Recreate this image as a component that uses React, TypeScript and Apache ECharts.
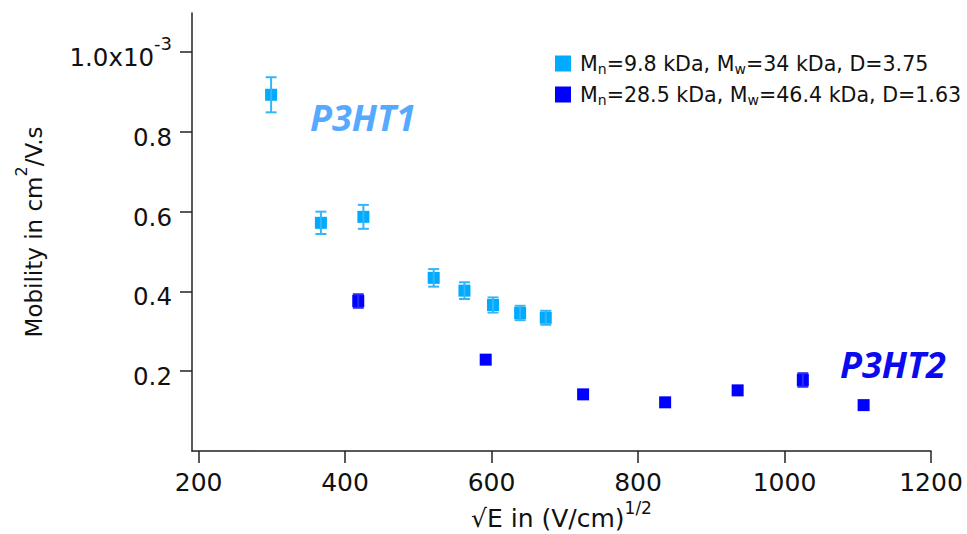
import React, { useEffect, useRef } from "react";
import * as echarts from "echarts";

// P3HT1: Mn=9.8 kDa, Mw=34 kDa, D=3.75
const x1 = [299, 367, 425, 521, 563, 602, 639, 674];
const y1 = [0.893, 0.572, 0.587, 0.434, 0.402, 0.366, 0.346, 0.334];
const e1 = [0.044, 0.028, 0.03, 0.022, 0.021, 0.019, 0.018, 0.0175];
// P3HT2: Mn=28.5 kDa, Mw=46.4 kDa, D=1.63
const x2 = [418, 592, 725, 837, 936, 1025, 1108];
const y2 = [0.376, 0.229, 0.142, 0.122, 0.152, 0.178, 0.115];
const e2 = [0.017, 0, 0, 0, 0, 0.017, 0];

const xTicks = [200, 400, 600, 800, 1000, 1200];
const yTicks = [0.2, 0.4, 0.6, 0.8, 1.0];

const name1 = "P3HT1";
const name2 = "P3HT2";

const FONT = "DejaVu Sans";

function errorSeries(xs: number[], ys: number[], es: number[], color: string) {
  return {
    type: "custom",
    silent: true,
    z: 5,
    data: xs.map((x, i) => [x, ys[i], es[i]]),
    encode: { x: 0, y: 1 },
    renderItem: (params: any, api: any) => {
      const x = api.value(0);
      const y = api.value(1);
      const e = api.value(2);
      if (!(e > 0)) return null;
      const top = api.coord([x, y + e]);
      const bot = api.coord([x, y - e]);
      const hw = 5.5;
      const style = { stroke: color, lineWidth: 2 };
      return {
        type: "group",
        children: [
          { type: "line", shape: { x1: top[0], y1: top[1], x2: bot[0], y2: bot[1] }, style },
          { type: "line", shape: { x1: top[0] - hw, y1: top[1], x2: top[0] + hw, y2: top[1] }, style },
          { type: "line", shape: { x1: bot[0] - hw, y1: bot[1], x2: bot[0] + hw, y2: bot[1] }, style },
        ],
      };
    },
  };
}

export default function App() {
  const ref = useRef<HTMLDivElement>(null);
  useEffect(() => {
    const chart = echarts.init(ref.current!, null, { renderer: "svg" });
    chart.setOption({
      animation: false,
      backgroundColor: "#ffffff",
      grid: {
        left: 192,
        right: 36,
        top: 13,
        bottom: 83,
        containLabel: false,
        outerBoundsMode: "none",
      },
      legend: {
        orient: "vertical",
        left: 550,
        top: 48,
        itemWidth: 16,
        itemHeight: 16,
        itemGap: 8,
        icon: "rect",
        data: [name1, name2],
        formatter: (n: string) =>
          n === name1
            ? "{a|M}{s|n}{a|=9.8 kDa, M}{s|w}{a|=34 kDa, D=3.75}"
            : "{a|M}{s|n}{a|=28.5 kDa, M}{s|w}{a|=46.4 kDa, D=1.63}",
        textStyle: {
          padding: [0, 0, 0, 4],
          rich: {
            a: { fontSize: 20.6, fontFamily: FONT, color: "#111", lineHeight: 25 },
            s: { fontSize: 14, fontFamily: FONT, color: "#111", lineHeight: 14, verticalAlign: "bottom" },
          },
        },
      },
      xAxis: {
        type: "value",
        min: 191,
        max: 1200,
        splitLine: { show: false },
        axisLine: { show: true, lineStyle: { color: "#222", width: 1.5 } },
        axisTick: { show: true, length: 12, customValues: xTicks, lineStyle: { color: "#222", width: 1.5 } },
        axisLabel: {
          customValues: xTicks,
          fontSize: 25,
          fontFamily: FONT,
          color: "#111",
          margin: 19,
          formatter: (v: number) => String(v),
        },
        name: "{a|√E in (V/cm)}{p|1/2}",
        nameLocation: "middle",
        nameGap: 48,
        nameTextStyle: {
          rich: {
            a: { fontSize: 25, fontFamily: FONT, color: "#111", lineHeight: 31, verticalAlign: "bottom" },
            p: { fontSize: 17, fontFamily: FONT, color: "#111", lineHeight: 31, verticalAlign: "top" },
          },
        },
      },
      yAxis: {
        type: "value",
        min: 0,
        max: 1.098,
        splitLine: { show: false },
        axisLine: { show: true, lineStyle: { color: "#222", width: 1.5 } },
        axisTick: { show: true, length: 12, customValues: yTicks, lineStyle: { color: "#222", width: 1.5 } },
        axisLabel: {
          customValues: yTicks,
          margin: 20,
          formatter: (v: number) =>
            Math.abs(v - 1) < 1e-9 ? "{a|1.0x10}{p|-3}" : "{a|" + v.toFixed(1) + "}",
          rich: {
            a: { fontSize: 24.5, fontFamily: FONT, color: "#111", lineHeight: 36, verticalAlign: "bottom" },
            p: { fontSize: 18, fontFamily: FONT, color: "#111", lineHeight: 36, verticalAlign: "top" },
          },
        },
        name: "{a|Mobility in cm}{p|2}{a|/V.s}",
        nameLocation: "middle",
        nameGap: 147,
        nameTextStyle: {
          rich: {
            a: { fontSize: 23, fontFamily: FONT, color: "#111", lineHeight: 32, verticalAlign: "bottom" },
            p: { fontSize: 16, fontFamily: FONT, color: "#111", lineHeight: 32, verticalAlign: "top" },
          },
        },
      },
      graphic: [
        {
          type: "text",
          left: 310,
          top: 99,
          style: {
            text: "P3HT1",
            fontFamily: "Open Sans",
            fontWeight: "bold",
            fontStyle: "italic",
            fontSize: 36,
            fill: "#55aaff",
          },
        },
        {
          type: "text",
          left: 840,
          top: 346,
          style: {
            text: "P3HT2",
            fontFamily: "Open Sans",
            fontWeight: "bold",
            fontStyle: "italic",
            fontSize: 36,
            fill: "#0a0aee",
          },
        },
      ],
      series: [
        {
          name: name1,
          type: "scatter",
          symbol: "rect",
          symbolSize: 12,
          itemStyle: { color: "#00aaff", opacity: 1 },
          z: 3,
          data: x1.map((x, i) => [x, y1[i]]),
        },
        {
          name: name2,
          type: "scatter",
          symbol: "rect",
          symbolSize: 12,
          itemStyle: { color: "#0000ff", opacity: 1 },
          z: 3,
          data: x2.map((x, i) => [x, y2[i]]),
        },
        errorSeries(x1, y1, e1, "#33b6f8"),
        errorSeries(x2, y2, e2, "#2a2aff"),
      ],
    });
    return () => chart.dispose();
  }, []);
  return (
    <div
      ref={ref}
      style={{ position: "fixed", left: 0, top: 0, width: 967, height: 534, background: "#fff" }}
    />
  );
}
